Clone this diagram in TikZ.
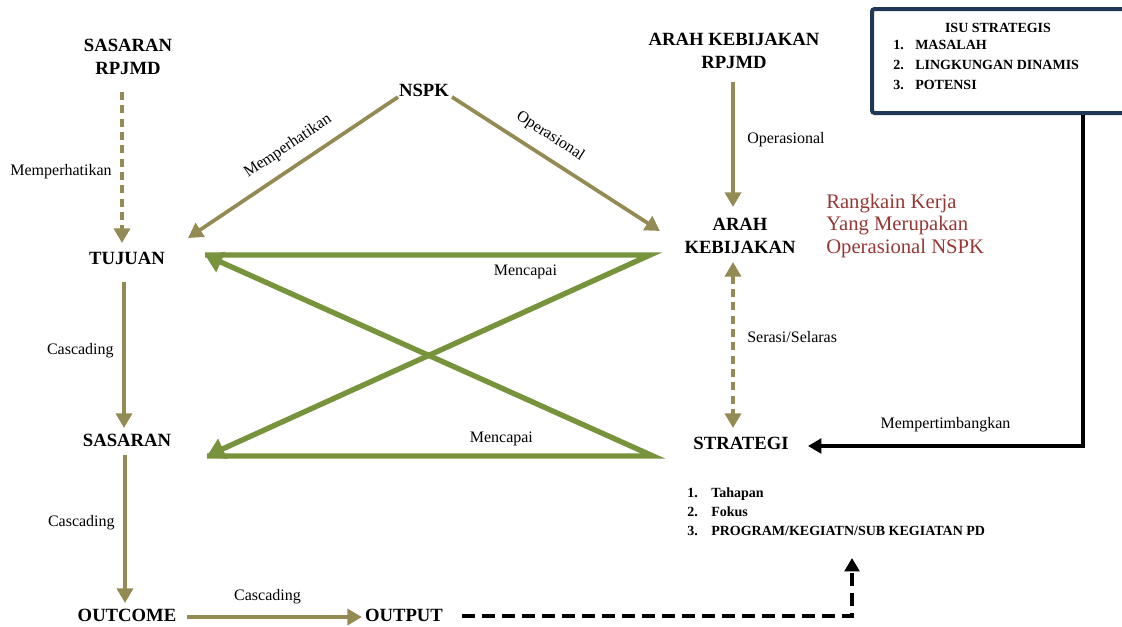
\documentclass[tikz,border=0pt]{standalone}
\usepackage{fontspec}
\setmainfont{Liberation Serif}
\usetikzlibrary{arrows.meta}
\definecolor{tanc}{RGB}{148,138,84}
\definecolor{greenc}{RGB}{119,147,60}
\definecolor{redc}{RGB}{149,55,52}
\definecolor{navyc}{RGB}{31,56,86}
\begin{document}
\begin{tikzpicture}[x=0.75pt,y=-0.75pt,
    big/.style={font=\bfseries\fontsize{14}{17}\selectfont,align=center},
    lbl/.style={font=\fontsize{12}{14}\selectfont},
    tanarrow/.style={draw=tanc,line width=2.8pt,-{Triangle[width=12pt,length=11pt]}},
    tandash/.style={tanarrow,dash pattern=on 6pt off 4pt},
    greenarrow/.style={draw=greenc,line width=4pt,-{Triangle[width=16pt,length=13pt]}},
    blackarrow/.style={draw=black,line width=2.4pt,-{Triangle[width=11pt,length=10pt]}},
    blackdash/.style={blackarrow,line width=3.6pt,dash pattern=on 10pt off 5pt}]
    \useasboundingbox (0,0) rectangle (1122,626);

    \node (1) at (128,57) [big]{SASARAN\\RPJMD};
    \node (2) at (424,90) [big]{NSPK};
    \node (3) at (734,51) [big]{ARAH KEBIJAKAN\\RPJMD};
    \node (4) at (127,258) [big]{TUJUAN};
    \node (5) at (740,236) [big]{ARAH\\KEBIJAKAN};
    \node (6) at (127,440) [big]{SASARAN};
    \node (7) at (741,443) [big]{STRATEGI};
    \node (8) at (127,615) [big]{OUTCOME};
    \node (9) at (404,615) [big]{OUTPUT};

    \node (10) at (1006,61) [draw=navyc,line width=3pt,rounded corners=2pt,minimum width=201pt,minimum height=78pt]{};
    \node (11) at (998,28) [font=\bfseries\fontsize{10.5}{13}\selectfont]{ISU STRATEGIS};
    \node (12) at (893,65) [anchor=west,inner sep=0pt,align=left,font=\bfseries\fontsize{10.5}{15}\selectfont]
        {\makebox[16.5pt][l]{1.}MASALAH\\\makebox[16.5pt][l]{2.}LINGKUNGAN DINAMIS\\\makebox[16.5pt][l]{3.}POTENSI};
    \node (13) at (826,226) [anchor=west,inner sep=0pt,align=left,text=redc,font=\fontsize{15.5}{17}\selectfont]
        {Rangkain Kerja\\Yang Merupakan\\Operasional NSPK};
    \node (14) at (687,512) [anchor=west,inner sep=0pt,align=left,font=\bfseries\fontsize{10.5}{14.25}\selectfont]
        {\makebox[18pt][l]{1.}Tahapan\\\makebox[18pt][l]{2.}Fokus\\\makebox[18pt][l]{3.}PROGRAM/KEGIATN/SUB KEGIATAN PD};

    \draw[tandash] ([shift={(-6,35)}]1.center) -- ([shift={(-5,-15)}]4.center)
        node[lbl,pos=0.53,left=3pt]{Memperhatikan};
    \draw[tanarrow] ([shift={(-26,7)}]2.center) -- ([shift={(61,-20)}]4.center)
        node[lbl,pos=0.47,sloped,above=5pt]{Memperhatikan};
    \draw[tanarrow] ([shift={(28,7)}]2.center) -- ([shift={(-80,-5)}]5.center)
        node[lbl,pos=0.42,sloped,above=5pt]{Operasional};
    \draw[tanarrow] ([shift={(-1,31)}]3.center) -- ([shift={(-7,-29)}]5.center)
        node[lbl,pos=0.46,right=6pt]{Operasional};
    \draw[tandash,{Triangle[width=12pt,length=11pt]}-{Triangle[width=12pt,length=11pt]}] ([shift={(-7,26)}]5.center) -- ([shift={(-8,-15)}]7.center)
        node[lbl,pos=0.45,right=6pt]{Serasi/Selaras};
    \draw[tanarrow] ([shift={(-3,24)}]4.center) -- ([shift={(-3,-12)}]6.center)
        node[lbl,pos=0.47,left=3pt]{Cascading};
    \draw[tanarrow] ([shift={(-2,15)}]6.center) -- ([shift={(-2,-12)}]8.center)
        node[lbl,pos=0.46,left=3pt]{Cascading};
    \draw[tanarrow] ([shift={(60,2)}]8.center) -- ([shift={(-42,2)}]9.center)
        node[lbl,pos=0.46,above=5pt]{Cascading};

    \coordinate (c1) at (852,558);
    \draw[blackdash] ([shift={(58,1)}]9.center) -| (c1);
    \draw[blackarrow] ([xshift=77*0.75pt]10.south) |- ([shift={(67,3)}]7.center)
        node[lbl,pos=0.75,above=6pt]{Mempertimbangkan};

    \coordinate (g1) at ([shift={(78,-3)}]4.center);
    \coordinate (g2) at ([shift={(-90,19)}]5.center);
    \coordinate (g3) at ([shift={(80,16)}]6.center);
    \coordinate (g4) at ([shift={(-88,13)}]7.center);
    \draw[greenarrow] (g1) -- (g2) node[lbl,pos=0.72,below=2pt,text=black]{Mencapai} -- (g3);
    \draw[greenarrow] (g3) -- (g4) node[lbl,pos=0.66,above=2pt,text=black]{Mencapai} -- (g1);

  \end{tikzpicture}
\end{document}
